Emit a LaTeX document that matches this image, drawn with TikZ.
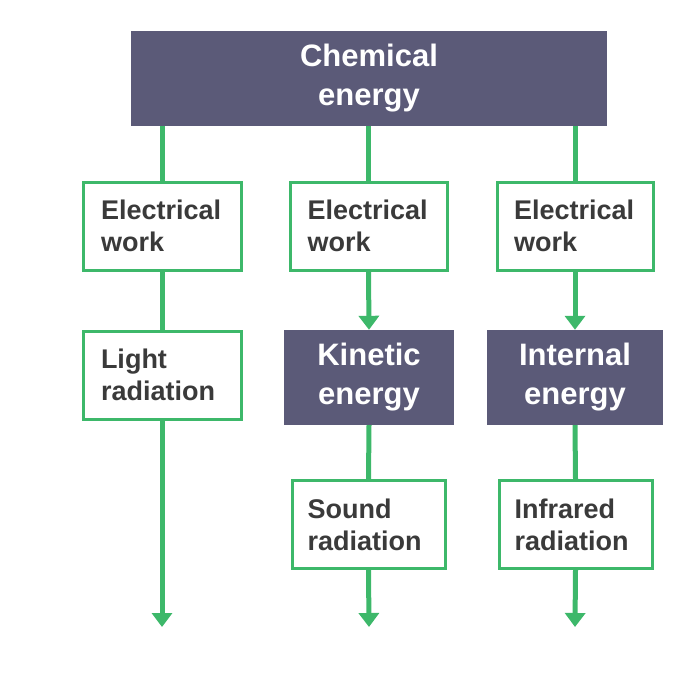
\documentclass[tikz,border=0pt]{standalone}
\usepackage{fontspec}
\setmainfont{Liberation Sans}
\usetikzlibrary{arrows.meta}
\definecolor{slate}{HTML}{5B5A78}
\definecolor{grn}{HTML}{3DB86A}
\definecolor{txt}{HTML}{3A3A3A}
\begin{document}
\begin{tikzpicture}[x=1pt,y=-1pt,
  wbox/.style={draw=grn,line width=3pt,fill=white,minimum height=88pt,text=txt,font=\bfseries\fontsize{27}{32}\selectfont,align=left,text width=#1,inner sep=0pt},
  dbox/.style={fill=slate,text=white,font=\bfseries\fontsize{31}{39}\selectfont,align=center,inner sep=0pt},
  ln/.style={draw=grn,line width=5pt},
  ar/.style={ln,-{Triangle[length=14pt,width=20pt]}}]
\useasboundingbox (0,0) rectangle (695,693);
\node[dbox,minimum width=476pt,minimum height=95pt] (chem) at (369,78.5) {Chemical\\energy};
\node[wbox=122pt,minimum width=158pt] (e1) at (162,226) {Electrical\\work};
\node[wbox=122pt,minimum width=157pt] (e2) at (368.5,226) {Electrical\\work};
\node[wbox=122pt,minimum width=156pt] (e3) at (575,226) {Electrical\\work};
\node[wbox=122pt,minimum width=158pt] (light) at (162,375) {Light\\radiation};
\node[dbox,minimum width=170pt,minimum height=95pt] (kin) at (369,377.5) {Kinetic\\energy};
\node[dbox,minimum width=176pt,minimum height=95pt] (int) at (575,377.5) {Internal\\energy};
\node[wbox=122pt,minimum width=153pt] (sound) at (368.5,524.5) {Sound\\radiation};
\node[wbox=122pt,minimum width=153pt] (ir) at (575.5,524.5) {Infrared\\radiation};
\coordinate (b1) at (162,627);
\coordinate (b2) at (369,627);
\coordinate (b3) at (575,627);
\draw[ln] (chem.south -| e1) -- (e1.north);
\draw[ln] (chem.south -| e2) -- (e2.north);
\draw[ln] (chem.south -| e3) -- (e3.north);
\draw[ln] (e1) -- (light);
\draw[ar] (e2.south) -- (kin.north);
\draw[ar] (e3.south) -- (int.north);
\draw[ln] (kin.south) -- (sound.north);
\draw[ln] (int.south) -- (ir.north);
\draw[ar] (light.south) -- (b1);
\draw[ar] (sound.south) -- (b2);
\draw[ar] (ir.south) -- (b3);
\end{tikzpicture}
\end{document}
